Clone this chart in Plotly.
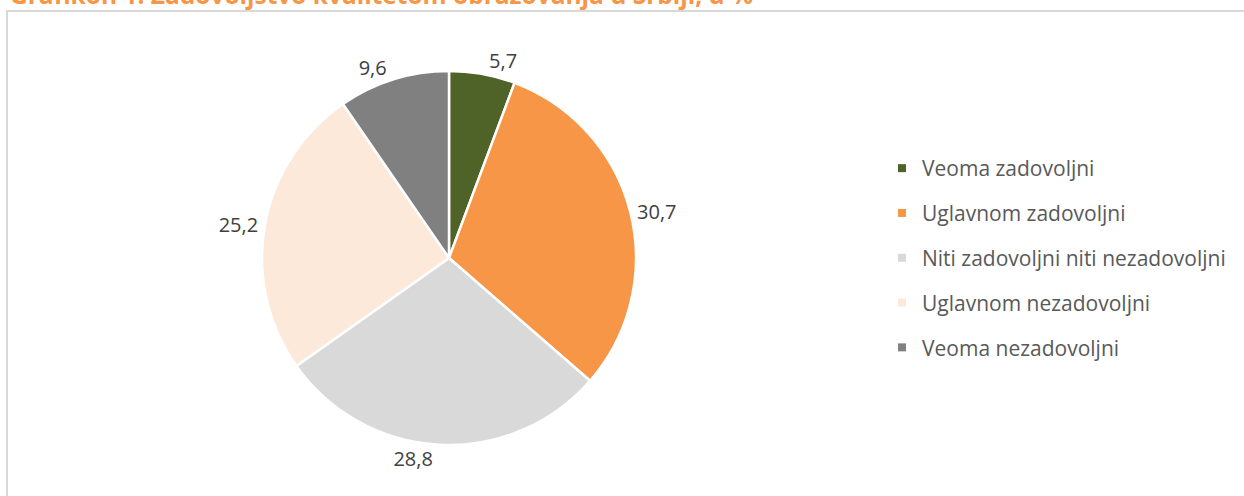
import plotly.graph_objects as go

categories = ["Veoma zadovoljni", "Uglavnom zadovoljni", "Niti zadovoljni niti nezadovoljni",
              "Uglavnom nezadovoljni", "Veoma nezadovoljni"]
values = [5.7, 30.7, 28.8, 25.2, 9.6]
colors = ["#4F6228", "#F79646", "#D9D9D9", "#FDE9D9", "#808080"]
title_text = "Grafikon 1. Zadovoljstvo kvalitetom obrazovanja u Srbiji, u %"

W, H = 1244, 496
labels_txt = [f"{v:.1f}".replace(".", ",") for v in values]

fig = go.Figure()
cx, cy, r = 449, 258, 187
fig.add_trace(go.Pie(
    labels=categories, values=values, text=labels_txt,
    texttemplate="%{text}", textinfo="text", textposition="outside",
    sort=False, direction="clockwise", rotation=0,
    marker=dict(colors=colors, line=dict(color="white", width=2.5)),
    outsidetextfont=dict(family="Open Sans", size=20, color="#404040"),
    showlegend=False, hoverinfo="label+value",
    domain=dict(x=[(cx - r) / W, (cx + r) / W], y=[(H - cy - r) / H, (H - cy + r) / H]),
))
for i, (c, col) in enumerate(zip(categories, colors)):
    fig.add_trace(go.Scatter(
        x=[None], y=[None], mode="markers", name=c, legendgroup=f"g{i}",
        marker=dict(symbol="square", size=8, color=col), showlegend=True,
    ))

fig.update_layout(
    width=W, height=H, margin=dict(l=0, r=0, t=0, b=0),
    paper_bgcolor="white", plot_bgcolor="white",
    xaxis=dict(visible=False), yaxis=dict(visible=False),
    font=dict(family="Open Sans", color="#595959"),
    legend=dict(x=882 / W, y=1 - 148 / H, xanchor="left", yanchor="top",
                font=dict(size=21, color="#595959"), tracegroupgap=14.5,
                itemwidth=30, bgcolor="rgba(0,0,0,0)"),
    shapes=[dict(type="rect", xref="paper", yref="paper",
                 x0=7 / W, x1=1.02, y0=-0.02, y1=1 - 11 / H,
                 line=dict(color="#D9D9D9", width=2))],
    annotations=[dict(text=f"<b>{title_text}</b>", xref="paper", yref="paper",
                      x=8 / W, y=1 - 13 / H, xanchor="left", yanchor="bottom",
                      showarrow=False, font=dict(family="Open Sans", size=24.5, color="#F79646"))],
)
fig.write_html("out.html", config={"displayModeBar": False},
               post_script="document.body.style.margin='0';")
